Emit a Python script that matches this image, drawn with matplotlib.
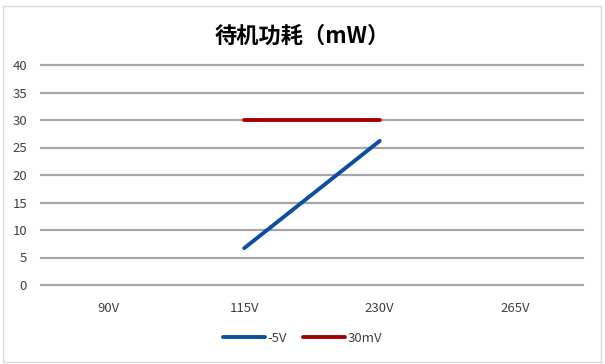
import matplotlib
matplotlib.use("Agg")
import matplotlib.pyplot as plt
from matplotlib.patches import Rectangle

plt.rcParams['font.family'] = ['Noto Sans CJK SC', 'DejaVu Sans']
plt.rcParams['axes.unicode_minus'] = False

# 数据
categories = ['90V', '115V', '230V', '265V']
neg5v = [None, 6.7, 26.2, None]
mv30 = [None, 30, 30, None]
yticks = [0, 5, 10, 15, 20, 25, 30, 35, 40]

fig = plt.figure(figsize=(6.05, 3.64), dpi=100)
ax = fig.add_axes([41 / 605, 1 - 285 / 364, 542 / 605, 220 / 364])

x = list(range(len(categories)))
xs1 = [i for i, v in zip(x, neg5v) if v is not None]
ys1 = [v for v in neg5v if v is not None]
xs2 = [i for i, v in zip(x, mv30) if v is not None]
ys2 = [v for v in mv30 if v is not None]

ax.plot(xs1, ys1, color='#0b4ea2', lw=2.8, label='-5V', solid_capstyle='round', zorder=3)
ax.plot(xs2, ys2, color='#a50000', lw=2.8, label='30mV', solid_capstyle='round', zorder=3)

ax.set_xlim(-0.5, len(categories) - 0.5)
ax.set_ylim(0, 40)
ax.set_yticks(yticks)
ax.set_xticks(x)
ax.set_xticklabels(categories)
ax.grid(axis='y', color='#a6a6a6', lw=1.6)
for gl in ax.get_ygridlines():
    gl.set_clip_on(False)
ax.set_axisbelow(True)
for s in ax.spines.values():
    s.set_visible(False)
ax.tick_params(length=0, labelsize=9.5, colors='#404040')
ax.tick_params(axis='x', pad=12)
ax.tick_params(axis='y', pad=10)

fig.text(0.5, 1 - 36 / 364, '待机功耗（mW）', ha='center', va='center',
         fontsize=16, fontweight='bold', color='black')

leg = fig.legend(loc='center', bbox_to_anchor=(0.5, 1 - 338 / 364), ncol=2,
                 frameon=False, fontsize=9.5, handlelength=3.2, columnspacing=1.2,
                 handletextpad=0.2)
for t in leg.get_texts():
    t.set_color('#404040')

fig.patches.append(Rectangle((3 / 605, 2 / 364), 598 / 605, 356 / 364, transform=fig.transFigure,
                             fill=False, edgecolor='#d9d9d9', lw=1))

fig.savefig('out.png', dpi=100)
